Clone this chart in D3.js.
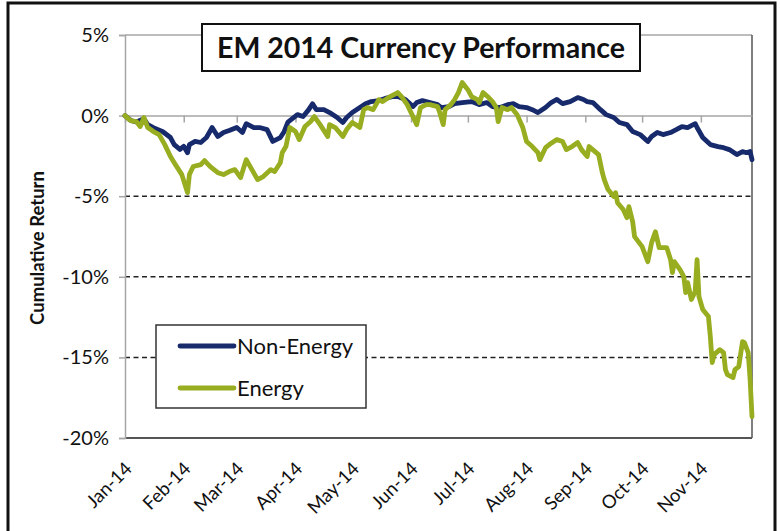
<!DOCTYPE html>
<html>
<head>
<meta charset="utf-8">
<script src="https://cdn.jsdelivr.net/npm/d3@7"></script>
<style>
  body { margin: 0; background: #fff; }
  svg { display: block; }
  text { font-family: Lato, "Open Sans", sans-serif; }
</style>
</head>
<body>
<div id="chart"></div>
<script>
/* Data: cumulative return (%), sampled by day offset from 1 Jan 2014 */
const seriesNames = ["Non-Energy", "Energy"]
const seriesColors = ["#172a6b", "#98ad1f"]

const nonEnergyDays = [0, 3, 6, 10, 12, 15, 20, 24, 26, 29, 31, 33, 34, 37, 40, 43, 46, 49, 52, 55, 59, 62, 64, 68, 71, 75, 78, 82, 84, 86, 89, 91, 94, 97, 99, 101, 105, 108, 112, 115, 117, 120, 124, 127, 130, 134, 137, 141, 144, 148, 152, 154, 157, 161, 165, 167, 171, 174, 178, 183, 187, 191, 194, 198, 202, 205, 208, 212, 215, 218, 222, 225, 228, 231, 235, 239, 242, 244, 247, 251, 254, 258, 261, 265, 268, 272, 276, 278, 281, 284, 288, 291, 294, 297, 301, 302, 305, 309, 313, 316, 319, 323, 326, 328, 330, 331]
const nonEnergyValues = [0, -0.3, -0.4, -0.2, -0.56, -0.75, -1.0, -1.36, -1.8, -2.1, -1.9, -2.3, -1.8, -1.6, -1.67, -1.36, -0.74, -1.3, -1.05, -0.93, -0.74, -1.05, -0.5, -0.74, -0.74, -0.87, -1.6, -1.36, -1.0, -0.4, -0.12, 0.06, -0.06, 0.37, 0.74, 0.37, 0.37, 0.19, -0.12, -0.43, -0.12, 0.19, 0.5, 0.74, 0.87, 0.93, 1.05, 1.18, 1.18, 1.0, 0.56, 0.81, 0.93, 0.81, 0.68, 0.5, 0.56, 0.74, 0.81, 0.87, 0.68, 0.81, 0.56, 0.5, 0.68, 0.74, 0.56, 0.5, 0.37, 0.19, 0.5, 0.81, 1.0, 0.74, 0.87, 1.12, 1.0, 0.87, 0.81, 0.37, 0.06, -0.12, -0.43, -0.56, -0.99, -1.18, -1.61, -1.3, -1.05, -1.18, -1.05, -0.87, -0.68, -0.74, -0.5, -0.74, -1.36, -1.8, -1.92, -1.99, -2.11, -2.42, -2.23, -2.3, -2.23, -2.73]

const energyDays = [0, 3, 6, 8, 10, 12, 15, 18, 21, 24, 26, 30, 33, 34, 36, 40, 42, 45, 49, 52, 55, 58, 61, 64, 67, 70, 73, 77, 79, 82, 83, 85, 87, 90, 92, 95, 98, 100, 103, 107, 108, 111, 115, 117, 120, 124, 126, 128, 131, 134, 136, 140, 144, 146, 149, 152, 154, 156, 159, 161, 165, 166, 168, 169, 172, 174, 176, 178, 181, 183, 186, 187, 189, 192, 194, 196, 197, 199, 202, 204, 207, 210, 212, 215, 218, 219, 222, 224, 228, 231, 233, 236, 239, 241, 244, 245, 250, 252, 253, 255, 258, 259, 260, 263, 265, 266, 268, 269, 273, 276, 278, 280, 282, 286, 288, 289, 290, 293, 295, 296, 297, 299, 301, 302, 303, 305, 308, 309, 310, 311, 314, 316, 317, 318, 321, 322, 324, 326, 327, 329, 330, 331]
const energyValues = [0, -0.31, -0.37, -0.68, -0.12, -0.74, -0.99, -1.18, -1.8, -2.54, -2.92, -3.66, -4.78, -3.66, -3.16, -3.04, -2.79, -3.16, -3.54, -3.66, -3.47, -3.35, -3.85, -2.73, -3.35, -3.97, -3.78, -3.35, -3.47, -2.92, -2.3, -1.9, -0.74, -0.99, -1.49, -0.68, -0.37, -0.06, -0.56, -1.3, -0.56, -0.74, -1.3, -0.87, -0.43, -0.74, 0.37, 0.5, 0.37, 0.99, 0.87, 1.18, 1.43, 1.18, 0.68, -0.06, -0.56, 0.5, 0.68, 0.68, 0.56, 0.25, -0.56, 0.37, 0.68, 0.99, 1.43, 2.05, 1.61, 1.18, 0.99, 0.81, 1.43, 1.12, 0.87, 0.5, -0.37, 0.5, 0.37, 0.5, 0.06, -0.74, -1.61, -1.92, -2.3, -2.73, -1.99, -1.8, -1.49, -1.61, -2.11, -1.92, -1.67, -2.11, -2.54, -1.92, -2.42, -3.54, -3.97, -4.59, -5.02, -4.78, -5.4, -5.83, -6.33, -5.65, -6.58, -7.51, -8.13, -9.06, -7.88, -7.2, -8.19, -8.19, -8.93, -9.74, -9.06, -9.55, -9.99, -10.98, -10.36, -11.41, -10.92, -8.93, -11.23, -12.03, -12.47, -13.71, -15.32, -14.83, -14.52, -14.7, -15.76, -16.07, -16.25, -15.76, -15.57, -14.02, -14.08, -14.7, -16.38, -18.67]

const yTickValues = [5, 0, -5, -10, -15, -20]
const gridValues = [-5, -10, -15]
/* End Data */

const width = 780
const height = 531
const plot = { left: 125, right: 752, top: 35, bottom: 438 }
const startDate = new Date(2014, 0, 1)

const toPoints = (days, values) => days.map((d, i) => ({
  date: d3.timeDay.offset(startDate, d),
  value: values[i]
}))

const series = [
  toPoints(nonEnergyDays, nonEnergyValues),
  toPoints(energyDays, energyValues)
]

const svg = d3.select("#chart").append("svg")
    .attr("width", width)
    .attr("height", height)

svg.append("rect")
    .attr("width", width)
    .attr("height", height)
    .attr("fill", "#fff")

// outer frame
svg.append("rect")
    .attr("x", 8)
    .attr("y", 3)
    .attr("width", 767)
    .attr("height", 540)
    .attr("fill", "none")
    .attr("stroke", "#111")
    .attr("stroke-width", 3)

const x = d3.scaleTime()
    .domain([startDate, d3.timeDay.offset(startDate, 331)])
    .range([plot.left, plot.right])

const y = d3.scaleLinear()
    .domain([-20, 5])
    .range([plot.bottom, plot.top])

// dashed gridlines
svg.append("g")
  .selectAll("line")
  .data(gridValues)
  .join("line")
    .attr("x1", plot.left)
    .attr("x2", plot.right)
    .attr("y1", d => y(d))
    .attr("y2", d => y(d))
    .attr("stroke", "#222")
    .attr("stroke-width", 1.5)
    .attr("stroke-dasharray", "5,3.5")

// plot border
svg.append("line")
    .attr("x1", plot.left).attr("x2", plot.right)
    .attr("y1", y(5)).attr("y2", y(5))
    .attr("stroke", "#a6a6a6").attr("stroke-width", 1.5)
svg.append("line")
    .attr("x1", plot.right).attr("x2", plot.right)
    .attr("y1", plot.top).attr("y2", plot.bottom)
    .attr("stroke", "#555").attr("stroke-width", 1.5)
svg.append("line")
    .attr("x1", plot.left).attr("x2", plot.right)
    .attr("y1", y(-20)).attr("y2", y(-20))
    .attr("stroke", "#555").attr("stroke-width", 2)

// y axis
const yAxis = svg.append("g")
    .attr("transform", `translate(${plot.left},0)`)
    .call(d3.axisLeft(y)
      .tickValues(yTickValues)
      .tickFormat(d => d + "%")
      .tickSize(6)
      .tickPadding(10))
yAxis.select(".domain").attr("stroke", "#a6a6a6").attr("stroke-width", 1.5)
yAxis.selectAll(".tick line").attr("stroke", "#a6a6a6").attr("stroke-width", 1.5)
yAxis.selectAll(".tick text")
    .attr("font-size", 20)
    .attr("fill", "#111")
    .style("font-family", "Lato, sans-serif")

// x axis at 0%
const months = d3.timeMonth.range(startDate, new Date(2014, 11, 1))
const xAxis = svg.append("g")
    .attr("transform", `translate(0,${y(0)})`)
    .call(d3.axisBottom(x)
      .tickValues(months)
      .tickFormat("")
      .tickSize(7)
      .tickSizeOuter(0))
xAxis.select(".domain").attr("stroke", "#a6a6a6").attr("stroke-width", 1.5)
xAxis.selectAll(".tick line").attr("stroke", "#a6a6a6").attr("stroke-width", 1.5)

// month labels at the bottom
svg.append("g")
  .selectAll("text")
  .data(months)
  .join("text")
    .attr("transform", d => `translate(${x(d) + 8},${470}) rotate(-45)`)
    .attr("text-anchor", "end")
    .attr("font-size", 18.5)
    .attr("fill", "#111")
    .text(d3.timeFormat("%b-%y"))

// y axis title
svg.append("text")
    .attr("transform", "translate(44,248) rotate(-90)")
    .attr("text-anchor", "middle")
    .attr("font-size", 18.5)
    .attr("font-weight", "bold")
    .attr("fill", "#111")
    .text("Cumulative Return")

// lines
const line = d3.line()
    .x(d => x(d.date))
    .y(d => y(d.value))

svg.append("g")
  .selectAll("path")
  .data(series)
  .join("path")
    .attr("d", line)
    .attr("fill", "none")
    .attr("stroke", (d, i) => seriesColors[i])
    .attr("stroke-width", 4.8)
    .attr("stroke-linejoin", "round")
    .attr("stroke-linecap", "round")

// title box
const titleBox = svg.append("g")
titleBox.append("rect")
    .attr("x", 202)
    .attr("y", 24)
    .attr("width", 438)
    .attr("height", 47)
    .attr("fill", "#fff")
    .attr("stroke", "#111")
    .attr("stroke-width", 2)
titleBox.append("text")
    .attr("x", 421)
    .attr("y", 58)
    .attr("text-anchor", "middle")
    .attr("font-size", 28.5)
    .attr("font-weight", "bold")
    .attr("fill", "#111")
    .text("EM 2014 Currency Performance")

// legend
const legend = svg.append("g")
legend.append("rect")
    .attr("x", 156)
    .attr("y", 325)
    .attr("width", 210)
    .attr("height", 83)
    .attr("fill", "#fff")
    .attr("stroke", "#333")
    .attr("stroke-width", 1.5)

const legendItem = legend.selectAll("g.item")
  .data(seriesNames)
  .join("g")
    .attr("class", "item")
    .attr("transform", (d, i) => `translate(0,${346 + i * 42})`)

legendItem.append("line")
    .attr("x1", 180)
    .attr("x2", 234)
    .attr("stroke", (d, i) => seriesColors[i])
    .attr("stroke-width", 4.8)
    .attr("stroke-linecap", "round")

legendItem.append("text")
    .attr("x", 237)
    .attr("y", 7.5)
    .attr("font-size", 22)
    .attr("fill", "#111")
    .text(d => d)
</script>
</body>
</html>
